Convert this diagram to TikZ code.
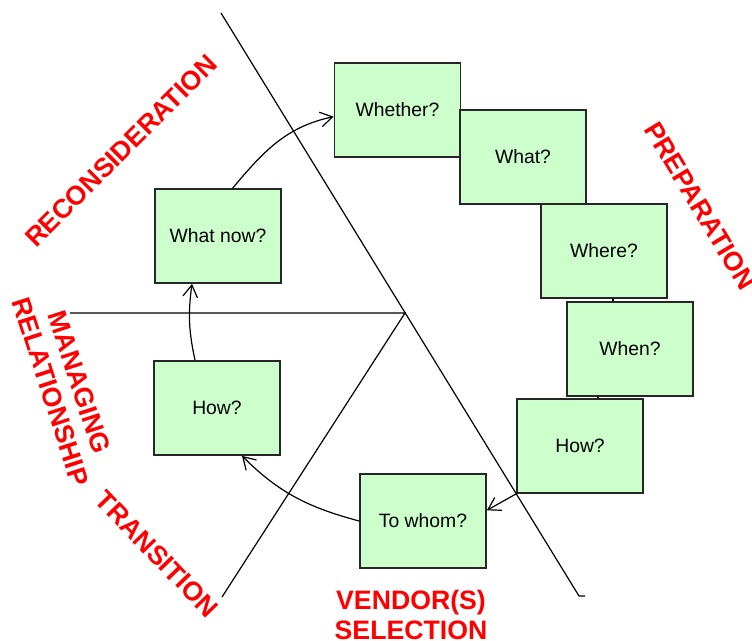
\documentclass[tikz,border=0pt]{standalone}
\usepackage{fontspec}
\setmainfont{Liberation Sans}
\usepackage{xcolor}
\usetikzlibrary{arrows.meta}

\begin{document}
\begin{tikzpicture}[x=0.75pt, y=0.75pt, line width=0.9pt,
        box/.style={draw=black!85, line width=1.3pt, fill=green!20,
            minimum width=94.5pt, minimum height=70.5pt, inner sep=0pt,
            font=\fontsize{14.5}{17}\selectfont},
        stage/.style={text=red, align=center,
            font=\fontsize{20}{22.5}\selectfont\bfseries},
        >={Straight Barb[length=9pt, width=11pt]}]
            \useasboundingbox (0,0) rectangle (752,640);

            \node[box] (whether) at (397.5,530) {Whether?};
            \node[box] (what) at (523,483) {What?};
            \node[box] (where) at (604,389) {Where?};
            \node[box] (when) at (630,291) {When?};
            \node[box] (howv) at (580,194) {How?};
            \node[box] (towhom) at (423,119) {To whom?};
            \node[box] (howt) at (217,232) {How?};
            \node[box] (whatnow) at (218,404) {What now?};

            \node[stage, rotate=45] (recon) at (121,489) {RECONSIDERATION};
            \node[stage, rotate=-59] (prep) at (700,434) {PREPARATION};
            \node[stage, rotate=-72] (manage) at (65,253) {MANAGING\\RELATIONSHIP};
            \node[stage, rotate=-46] (trans) at (157,86) {TRANSITION};
            \node[stage] (vendor) at (411,25) {VENDOR(S)\\SELECTION};

            \coordinate (hub) at (405,327);
            \coordinate (topend) at (221,627);
            \coordinate (lowend) at (579,44);
            \coordinate (tail) at (585,44);
            \coordinate (leftend) at (70,327);
            \coordinate (footend) at (222,43);

            \draw (topend) -- (lowend) -- (tail);
            \draw (leftend) -- (hub) -- (footend);

            \draw ([xshift=6.75pt]where.south) -- ([xshift=6.75pt]where.south |- when.north);
            \draw ([xshift=-24pt]when.south) -- ([xshift=-24pt]when.south |- howv.north);

            \draw[->] (howv.south west) -- ([yshift=8pt]towhom.east);
            \draw[->] (towhom.west) to[out=165, in=-45] ([xshift=18.75pt]howt.south);
            \draw[->] ([xshift=-16.5pt]howt.north) to[bend left=10] ([xshift=-19.5pt]whatnow.south);
            \draw[->] ([xshift=11pt]whatnow.north) to[out=50, in=192] ([yshift=-5pt]whether.west);
        \end{tikzpicture}
\end{document}
